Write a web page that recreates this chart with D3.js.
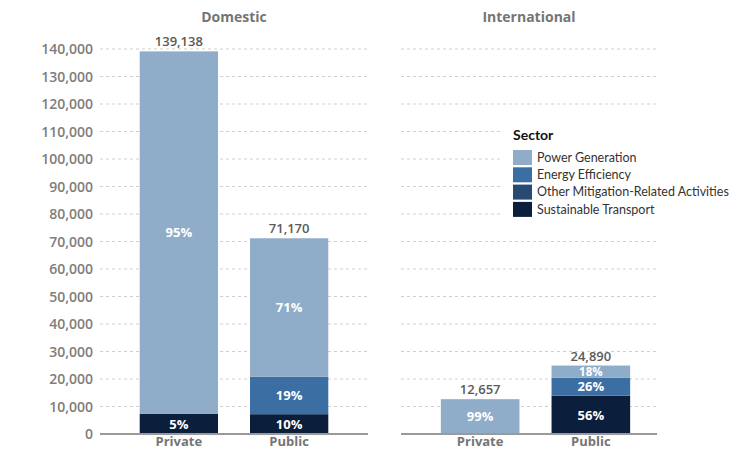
<!DOCTYPE html>
<html>
<head>
<meta charset="utf-8">
<script src="https://cdn.jsdelivr.net/npm/d3@7"></script>
<style>
  html, body { margin: 0; padding: 0; background: #fff; }
  svg { display: block; font-family: "Open Sans", Lato, sans-serif; }
  .legend text { font-family: Lato, "Open Sans", sans-serif; }
</style>
</head>
<body>
<svg id="chart" width="751" height="451"></svg>
<script>
// Investment by sector, stacked by finance source
const panels = ["Domestic", "International"];
const sources = ["Private", "Public"];
const sectors = ["Power Generation", "Energy Efficiency", "Other Mitigation-Related Activities", "Sustainable Transport"];
const sectorColors = ["#8facc9", "#3b6ea3", "#284a72", "#0b1e3b"];

// Values per bar, in sector order (bottom of the stack is Sustainable Transport)
const domesticPrivate = [131838, 0, 0, 7300];
const domesticPublic = [50370, 13600, 0, 7200];
const internationalPrivate = [12530, 0, 127, 0];
const internationalPublic = [4480, 6470, 0, 13940];

const yTicks = [0, 10000, 20000, 30000, 40000, 50000, 60000, 70000, 80000, 90000, 100000, 110000, 120000, 130000, 140000];

const barData = {
  Domestic: { Private: domesticPrivate, Public: domesticPublic },
  International: { Private: internationalPrivate, Public: internationalPublic }
};

const svg = d3.select("#chart");
const fmt = d3.format(",");

const y = d3.scaleLinear().domain([0, 140000]).range([434, 49]);
// grid extent and band range of each panel
const panelGrid = { Domestic: [100, 368], International: [401, 657] };
const panelBand = { Domestic: [100, 368], International: [401, 670] };

// Y axis tick labels (shared, left side)
svg.append("g")
  .selectAll("text")
  .data(yTicks)
  .join("text")
  .attr("x", 93)
  .attr("y", d => y(d))
  .attr("dy", "0.36em")
  .attr("text-anchor", "end")
  .attr("fill", "#7d7d7d")
  .attr("font-size", 14)
  .attr("font-weight", 600)
  .text(d => fmt(d));

panels.forEach(panel => {
  const [x0, x1] = panelGrid[panel];
  const x = d3.scaleBand().domain(sources).range(panelBand[panel]).paddingInner(0.29).paddingOuter(0.36);
  const g = svg.append("g");

  // Dashed gridlines
  g.selectAll("line.grid")
    .data(yTicks.filter(t => t > 0))
    .join("line")
    .attr("class", "grid")
    .attr("x1", x0).attr("x2", x1)
    .attr("y1", d => y(d)).attr("y2", d => y(d))
    .attr("stroke", "#cfcfcf")
    .attr("stroke-width", 1)
    .attr("stroke-dasharray", "3,3");

  // Panel title
  g.append("text")
    .attr("x", (x0 + x1) / 2)
    .attr("y", 22)
    .attr("text-anchor", "middle")
    .attr("fill", "#757575")
    .attr("font-size", 14)
    .attr("font-weight", 700)
    .text(panel);

  sources.forEach(src => {
    const vals = barData[panel][src];
    const total = d3.sum(vals);
    // stack from the bottom: Sustainable Transport first, Power Generation on top
    const order = [3, 2, 1, 0];
    let acc = 0;
    const segs = order.map(i => {
      const s = { i, v: vals[i], y0: acc, y1: acc + vals[i] };
      acc += vals[i];
      return s;
    }).filter(s => s.v > 0);

    g.selectAll(null)
      .data(segs)
      .join("rect")
      .attr("x", x(src))
      .attr("width", x.bandwidth())
      .attr("y", d => y(d.y1))
      .attr("height", d => y(d.y0) - y(d.y1))
      .attr("fill", d => sectorColors[d.i]);

    // Percentage labels inside segments tall enough to hold them
    const segH = d => y(d.y0) - y(d.y1);
    g.selectAll(null)
      .data(segs.filter(d => segH(d) > 10))
      .join("text")
      .attr("x", x(src) + x.bandwidth() / 2)
      .attr("y", d => (y(d.y0) + y(d.y1)) / 2)
      .attr("dy", "0.36em")
      .attr("text-anchor", "middle")
      .attr("fill", "#ffffff")
      .attr("font-size", d => segH(d) < 16 ? 11.5 : 13)
      .attr("font-weight", 700)
      .text(d => Math.round(d.v / total * 100) + "%");

    // Total above the bar
    g.append("text")
      .attr("x", x(src) + x.bandwidth() / 2)
      .attr("y", y(total) - 5)
      .attr("text-anchor", "middle")
      .attr("fill", "#5a5a5a")
      .attr("font-size", 13)
      .attr("font-weight", 600)
      .text(fmt(total));

    // Category label
    g.append("text")
      .attr("x", x(src) + x.bandwidth() / 2)
      .attr("y", 446)
      .attr("text-anchor", "middle")
      .attr("fill", "#757575")
      .attr("font-size", 13)
      .attr("font-weight", 700)
      .text(src);
  });

  // Baseline
  g.append("line")
    .attr("x1", x0).attr("x2", x1)
    .attr("y1", y(0)).attr("y2", y(0))
    .attr("stroke", "#9a9a9a")
    .attr("stroke-width", 2);
});

// Legend
const legend = svg.append("g").attr("class", "legend").attr("transform", "translate(502,120)");
legend.append("rect")
  .attr("x", 0).attr("y", 0).attr("width", 235).attr("height", 102)
  .attr("fill", "#ffffff");
legend.append("text")
  .attr("x", 11).attr("y", 20)
  .attr("fill", "#111")
  .attr("font-size", 14)
  .attr("font-weight", 700)
  .text("Sector");
const items = legend.selectAll("g.item")
  .data(sectors)
  .join("g")
  .attr("class", "item")
  .attr("transform", (d, i) => `translate(11,${30 + i * 17.3})`);
items.append("rect")
  .attr("width", 19).attr("height", 15)
  .attr("fill", (d, i) => sectorColors[i]);
items.append("text")
  .attr("x", 24).attr("y", 7.5)
  .attr("dy", "0.35em")
  .attr("fill", "#333")
  .attr("font-size", 12.5)
  .text(d => d);
</script>
</body>
</html>
